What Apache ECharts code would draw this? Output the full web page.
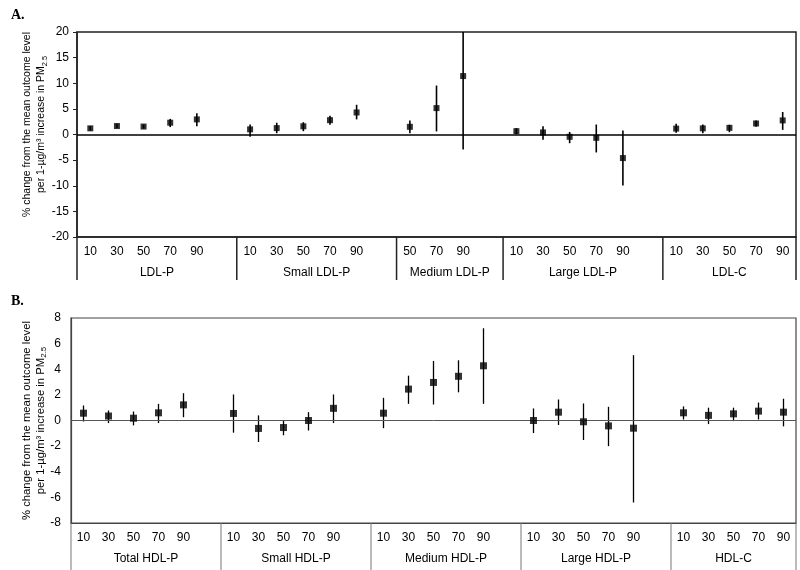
<!DOCTYPE html>
<html>
<head>
<meta charset="utf-8">
<script src="https://cdn.jsdelivr.net/npm/echarts@6/dist/echarts.min.js"></script>
<style>html,body{margin:0;padding:0;background:#fff}#c{width:800px;height:570px}</style>
</head>
<body>
<div id="c"></div>
<script>
// ---------- Panel A data ----------
const catsA = ['10','30','50','70','90','', '10','30','50','70','90','', '50','70','90','', '10','30','50','70','90','', '10','30','50','70','90'];
const meanA = [1.2,1.65,1.55,2.3,2.95,null, 1.0,1.25,1.6,2.8,4.3,null, 1.5,5.15,11.4,null, 0.65,0.4,-0.45,-0.65,-4.6,null, 1.15,1.2,1.3,2.15,2.75];
const lowA  = [0.8,1.25,1.15,1.45,1.6,null, -0.45,0.25,0.65,1.9,2.95,null, 0.25,0.6,-2.95,null, 0.05,-1.0,-1.7,-3.5,-9.95,null, 0.35,0.25,0.45,1.5,0.9];
const highA = [1.6,2.1,1.95,3.05,4.15,null, 1.95,2.3,2.4,3.65,5.8,null, 2.75,9.55,20,null, 1.25,1.6,0.5,1.95,0.8,null, 2.1,1.95,1.9,2.75,4.4];
const groupsA = ['LDL-P','Small LDL-P','Medium LDL-P','Large LDL-P','LDL-C'];
const groupSlotsA = [[0,6],[6,12],[12,16],[16,22],[22,27]];

// ---------- Panel B data ----------
const catsB = ['10','30','50','70','90','', '10','30','50','70','90','', '10','30','50','70','90','', '10','30','50','70','90','', '10','30','50','70','90'];
const meanB = [0.57,0.35,0.18,0.6,1.22,null, 0.55,-0.62,-0.55,0.0,0.95,null, 0.57,2.45,2.97,3.45,4.27,null, 0.0,0.65,-0.1,-0.42,-0.6,null, 0.6,0.4,0.52,0.73,0.65];
const lowB  = [-0.08,-0.2,-0.38,-0.2,0.26,null, -0.95,-1.68,-1.15,-0.78,-0.2,null, -0.6,1.3,1.25,2.2,1.3,null, -0.98,-0.35,-1.52,-2.0,-6.4,null, 0.08,-0.28,-0.05,0.08,-0.46];
const highB = [1.17,0.78,0.7,1.3,2.13,null, 2.03,0.4,0.0,0.65,2.03,null, 1.77,3.5,4.65,4.7,7.2,null, 0.94,1.64,1.33,1.07,5.1,null, 1.1,1.0,1.0,1.4,1.7];
const groupsB = ['Total HDL-P','Small HDL-P','Medium HDL-P','Large HDL-P','HDL-C'];
const groupSlotsB = [[0,6],[6,12],[12,18],[18,24],[24,29]];

const FONT = 'Liberation Sans, Arial, sans-serif';
const chart = echarts.init(document.getElementById('c'), null, {renderer: 'canvas'});

function pts(mean) { return mean.map((v, i) => v == null ? null : [i, v]).filter(Boolean); }
function bars(low, high) { return low.map((v, i) => v == null ? null : [i, v, high[i]]).filter(Boolean); }
function groupData(slots) { return slots.map(s => [s[0], s[1], 0]); }

function makeBoundaryX(api, s, n) {
  const bw = api.size([1, 0])[0];
  if (s < n) return api.coord([s, 0])[0] - bw / 2;
  return api.coord([n - 1, 0])[0] + bw / 2;
}

function groupSeries(idx, slots, names, n, yMin, labelOff, lineLen, color, lw) {
  return {
    type: 'custom', xAxisIndex: idx, yAxisIndex: idx, silent: true, clip: false,
    data: groupData(slots), encode: {x: [0, 1], y: 2},
    renderItem: function (params, api) {
      const s = api.value(0), e = api.value(1);
      const x0 = makeBoundaryX(api, s, n), x1 = makeBoundaryX(api, e, n);
      const yb = api.coord([0, yMin])[1];
      const children = [
        {type: 'line', shape: {x1: x0, y1: yb, x2: x0, y2: yb + lineLen}, style: {stroke: color, lineWidth: lw}},
        {type: 'text', x: (x0 + x1) / 2, y: yb + labelOff,
         style: {text: names[params.dataIndex], fill: '#000', font: '12px ' + FONT, align: 'center', verticalAlign: 'middle'}}
      ];
      if (params.dataIndex === slots.length - 1) {
        children.push({type: 'line', shape: {x1: x1, y1: yb, x2: x1, y2: yb + lineLen}, style: {stroke: color, lineWidth: lw}});
      }
      return {type: 'group', children: children};
    }
  };
}

function errSeries(idx, data, color, lw) {
  return {
    type: 'custom', xAxisIndex: idx, yAxisIndex: idx, silent: true,
    data: data, encode: {x: 0, y: [1, 2]},
    renderItem: function (params, api) {
      const p0 = api.coord([api.value(0), api.value(1)]);
      const p1 = api.coord([api.value(0), api.value(2)]);
      return {type: 'line', shape: {x1: p0[0], y1: p0[1], x2: p1[0], y2: p1[1]}, style: {stroke: color, lineWidth: lw}};
    }
  };
}

const yName = '{a|% change from the mean outcome level}\n{a|per 1-µg/m³ increase in PM}{s|2.5}';
function yNameRich(fs) {
  return {
    a: {fontSize: fs, fontFamily: FONT, color: '#000', lineHeight: 14},
    s: {fontSize: fs * 0.7, fontFamily: FONT, color: '#000', lineHeight: 14, verticalAlign: 'bottom', padding: [5, 0, 0, 0]}
  };
}

function xAxisCfg(idx, cats, color, lw) {
  return {
    type: 'category', gridIndex: idx, data: cats, boundaryGap: true,
    axisLine: {show: true, onZero: false, lineStyle: {color: color, width: lw}},
    axisTick: {show: false},
    axisLabel: {color: '#000', fontSize: 12, fontFamily: FONT, margin: 9, interval: 0},
    splitLine: {show: false}
  };
}
function yAxisCfg(idx, min, max, interval, color, lw, gap, tick, fs, pad) {
  return {
    type: 'value', gridIndex: idx, min: min, max: max, interval: interval,
    axisLine: {show: true, onZero: false, lineStyle: {color: color, width: lw}},
    axisTick: {show: tick, length: 4, lineStyle: {color: color, width: 1}},
    axisLabel: {color: '#000', fontSize: 12, fontFamily: FONT, margin: tick ? 8 : 10},
    splitLine: {show: false},
    name: yName, nameLocation: 'middle', nameRotate: 90, nameGap: gap, nameMoveOverlap: false,
    nameTextStyle: {rich: yNameRich(fs), align: 'center', padding: pad}
  };
}

const colA = '#222', colB = '#444';

chart.setOption({
  animation: false,
  backgroundColor: '#fff',
  title: [
    {text: 'A.', left: 6, top: 3, textStyle: {fontFamily: 'Liberation Serif, Times New Roman, serif', fontWeight: 'bold', fontSize: 14, color: '#000'}},
    {text: 'B.', left: 6, top: 289, textStyle: {fontFamily: 'Liberation Serif, Times New Roman, serif', fontWeight: 'bold', fontSize: 14, color: '#000'}}
  ],
  grid: [
    {left: 77, right: 4, top: 32, height: 205, show: true, borderColor: colA, borderWidth: 1.5, backgroundColor: 'transparent'},
    {left: 71, right: 4, top: 318, height: 205, show: true, borderColor: colB, borderWidth: 1.2, backgroundColor: 'transparent'}
  ],
  xAxis: [xAxisCfg(0, catsA, colA, 1.5), xAxisCfg(1, catsB, colB, 1.2)],
  yAxis: [yAxisCfg(0, -20, 20, 5, colA, 1.5, 29, true, 10.5, [0, 0, 0, 20]), yAxisCfg(1, -8, 8, 2, colB, 1.2, 23, false, 11.3, [0, 0, 0, 0])],
  series: [
    errSeries(0, bars(lowA, highA), '#000', 1.6),
    {
      type: 'scatter', xAxisIndex: 0, yAxisIndex: 0, data: pts(meanA), symbol: 'rect', symbolSize: 6,
      itemStyle: {color: '#000'}, silent: true, z: 5,
      markLine: {silent: true, symbol: 'none', label: {show: false}, lineStyle: {color: '#000', width: 1.5, type: 'solid'}, data: [{yAxis: 0}]}
    },
    groupSeries(0, groupSlotsA, groupsA, catsA.length, -20, 36, 43, colA, 1.5),
    errSeries(1, bars(lowB, highB), '#000', 1.3),
    {
      type: 'scatter', xAxisIndex: 1, yAxisIndex: 1, data: pts(meanB), symbol: 'rect', symbolSize: 7,
      itemStyle: {color: '#000'}, silent: true, z: 5,
      markLine: {silent: true, symbol: 'none', label: {show: false}, lineStyle: {color: '#555', width: 1, type: 'solid'}, data: [{yAxis: 0}]}
    },
    groupSeries(1, groupSlotsB, groupsB, catsB.length, -8, 36, 47, '#777', 1)
  ]
});
</script>
</body>
</html>
